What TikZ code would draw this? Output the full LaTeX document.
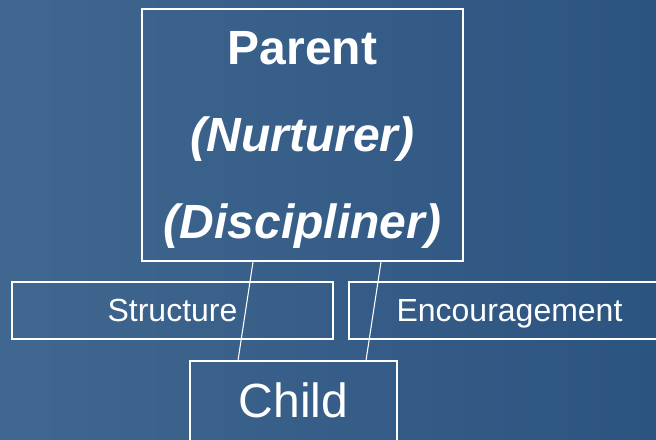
\documentclass[tikz,border=0pt]{standalone}
\usepackage{fontspec}
\setmainfont{Liberation Sans}
\usetikzlibrary{positioning, calc}
\definecolor{slateblue}{HTML}{2C5480}
\definecolor{paleblue}{HTML}{40678F}

\begin{document}
\begin{tikzpicture}[x=0.75pt,y=-0.75pt,
    whitebox/.style={draw=white, line width=1.1pt, text=white, inner sep=0pt},
    tie/.style={draw=white, line width=0.8pt}]
  \useasboundingbox (0,0) rectangle (656,439);
  \clip (0,0) rectangle (656,439);
  \fill[left color=paleblue, right color=slateblue] (0,0) rectangle (656,439);
  % parent role
  \node[whitebox, minimum width=240.75pt, minimum height=189pt, align=center,
        font=\fontsize{36}{65}\selectfont\bfseries] (parent) at (302.5,135)
        {\rule{0pt}{32pt}Parent\\\textit{(Nurturer)}\\\textit{(Discipliner)}};
  % the two sides
  \node[whitebox, minimum width=240.75pt, minimum height=42.75pt,
        text height=17.5pt, text depth=1.7pt,
        font=\fontsize{24}{28}\selectfont] (structure) at (172.5,310.5) {Structure};
  \node[whitebox, minimum width=240.75pt, minimum height=42.75pt,
        text height=17.5pt, text depth=1.2pt,
        font=\fontsize{24}{28}\selectfont] (encourage) at (509.5,310.5) {Encouragement};
  % child
  \node[whitebox, minimum width=155.25pt, minimum height=63pt,
        text height=26pt, text depth=5pt,
        font=\fontsize{36}{40}\selectfont] (child) at (293.5,403) {Child};
  \draw[tie] ([xshift=-37.1pt]parent.south) -- ([xshift=-41.6pt]child.north);
  \draw[tie] ([xshift=58.9pt]parent.south) -- ([xshift=54.4pt]child.north);
\end{tikzpicture}
\end{document}
